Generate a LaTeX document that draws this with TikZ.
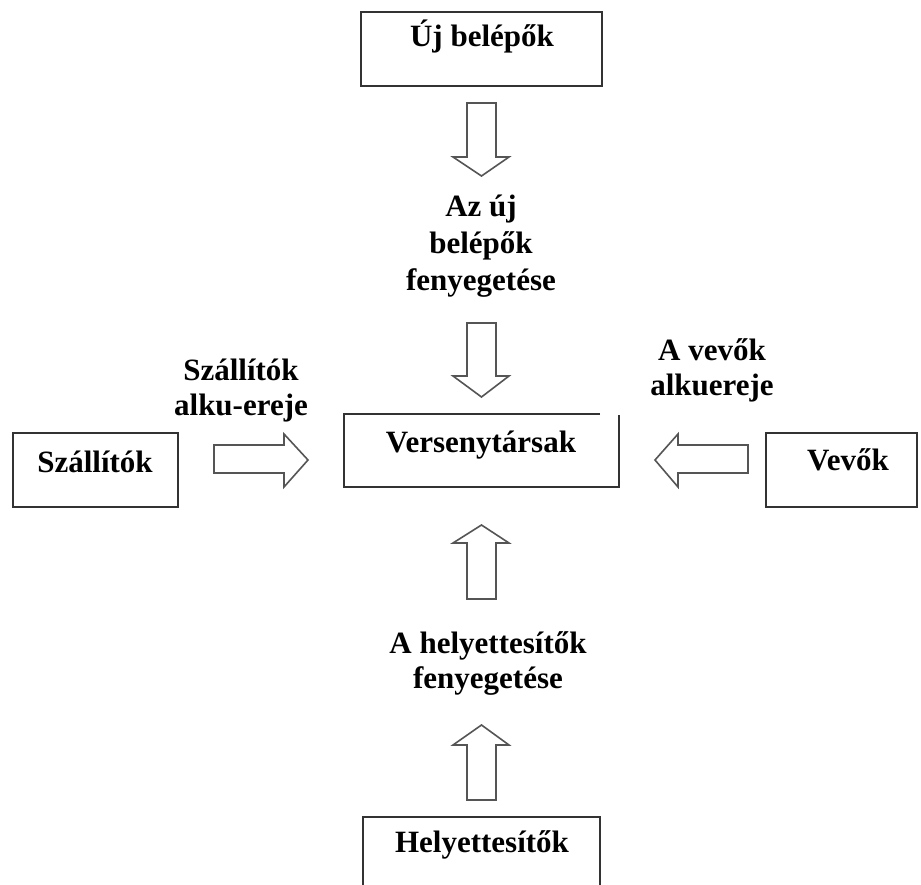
\documentclass[tikz,border=0pt]{standalone}
\usepackage{fontspec}
\setmainfont{Liberation Serif}
\definecolor{boxline}{HTML}{333333}
\definecolor{arrline}{HTML}{555555}
\begin{document}
\begin{tikzpicture}[x=1pt,y=-1pt,
  lbl/.style={font=\fontsize{31}{35}\selectfont\bfseries, align=center, inner sep=0pt},
  boxedge/.style={draw=boxline, line width=2.2pt, line join=miter},
  blockarrow/.style={draw=arrline, line width=1.6pt, fill=white, line join=miter}]
\useasboundingbox (0,0) rectangle (921,885);
\fill[white] (0,0) rectangle (921,885);

% boxes
\draw[boxedge] (361,12) rectangle (602,86);
\node[lbl, anchor=base] (uj) at (482,47) {Új belépők};

\draw[boxedge] (600,414) -- (344,414) -- (344,487) -- (619,487) -- (619,415);
\node[lbl, anchor=base] (vers) at (481,452) {Versenytársak};

\draw[boxedge] (13,433) rectangle (178,507);
\node[lbl, anchor=base] (szall) at (95,472) {Szállítók};

\draw[boxedge] (766,433) rectangle (917,507);
\node[lbl, anchor=base] (vevok) at (848,470) {Vevők};

\draw[boxedge] (363,886) -- (363,817) -- (600,817) -- (600,886);
\node[lbl, anchor=base] (hely) at (482,852) {Helyettesítők};

% labels
\node[lbl, font=\fontsize{31}{37}\selectfont\bfseries] (ujfeny) at (481,246) {Az új\\belépők\\fenyegetése};
\node[lbl] (szalku) at (241,391) {Szállítók\\alku-ereje};
\node[lbl] (vevalku) at (712,370) {A vevők\\alkuereje};
\node[lbl] (helyfeny) at (488,663) {A helyettesítők\\fenyegetése};

% block arrows (down)
\draw[blockarrow] (467,103) -- (496,103) -- (496,157) -- (509,157) -- (481.5,176) -- (453,157) -- (467,157) -- cycle;
\draw[blockarrow] (467,323) -- (496,323) -- (496,376) -- (509,376) -- (481.5,397) -- (453,376) -- (467,376) -- cycle;
% up arrows
\draw[blockarrow] (467,599) -- (496,599) -- (496,543) -- (509,543) -- (481.5,525) -- (453,543) -- (467,543) -- cycle;
\draw[blockarrow] (467,800) -- (496,800) -- (496,745) -- (509,745) -- (481.5,725) -- (453,745) -- (467,745) -- cycle;
% right arrow
\draw[blockarrow] (214,445) -- (284,445) -- (284,434) -- (308,460) -- (284,487) -- (284,473) -- (214,473) -- cycle;
% left arrow
\draw[blockarrow] (748,445) -- (678,445) -- (678,434) -- (655,460) -- (678,487) -- (678,473) -- (748,473) -- cycle;
\end{tikzpicture}
\end{document}
